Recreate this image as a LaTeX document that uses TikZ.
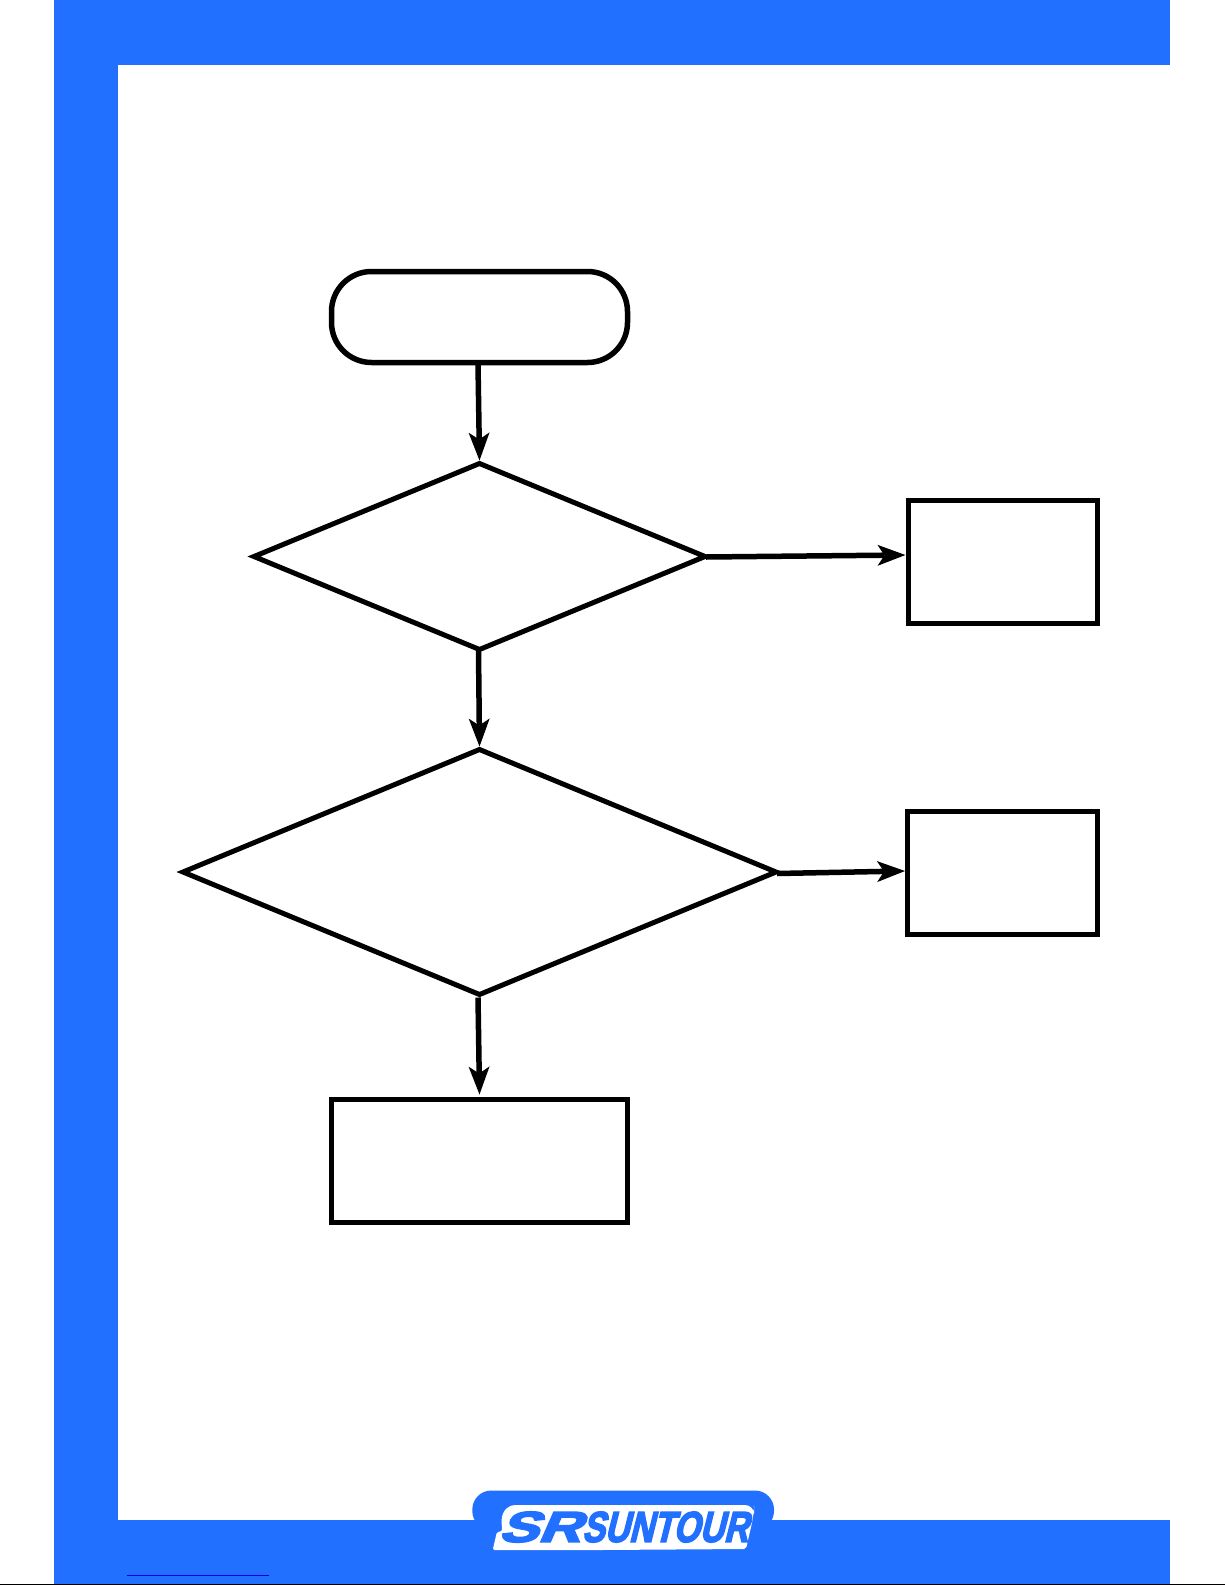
\documentclass[tikz,border=0pt]{standalone}
\usepackage{graphicx}
\usepackage{fontspec}
\usetikzlibrary{arrows.meta,shapes.geometric}
\newfontfamily\logofont{Liberation Sans}[BoldFeatures={FakeSlant=0.32,FakeBold=4}]
\definecolor{bandblue}{HTML}{2170FF}
\definecolor{linkblue}{HTML}{0000EE}
\tikzset{
  band/.style={fill=bandblue,draw=none},
  startbox/.style={draw=black,line width=5.5pt,rectangle,rounded corners=40pt,inner sep=0pt,outer sep=0pt,fill=white},
  procbox/.style={draw=black,line width=5pt,rectangle,inner sep=0pt,outer sep=0pt,fill=white},
  decision/.style={draw=black,line width=5pt,diamond,inner sep=0pt,outer sep=0pt,fill=white},
  flowarrow/.style={draw=black,line width=5.5pt,-{Stealth[length=28pt,width=21pt,inset=7pt,line width=0pt]}},
  logotext/.style={inner sep=0pt,outer sep=0pt,text=bandblue,font=\logofont\bfseries}
}
\begin{document}
\begin{tikzpicture}[x=1pt,y=-1pt]
\useasboundingbox (0,0) rectangle (1225,1585);
\fill[white] (0,0) rectangle (1225,1585);
% blue frame
\fill[band] (54,0) rectangle (1170,64.5);
\fill[band] (54,0) rectangle (118,1584);
\fill[band] (54,1520) rectangle (1170,1584);
\fill[band,rounded corners=19pt] (472.3,1530) -- (472.3,1490.5) -- (774,1490.5) -- (774,1530) -- cycle;
\draw[black,line width=1.2pt] (0,1584.4) -- (1225,1584.4);
\draw[linkblue,line width=1pt] (127,1575.3) -- (269,1575.3);
% logo
\fill[white,rounded corners=2pt] (492.7,1550) -- (497,1531.5) -- (502,1531.5) -- (501.5,1518) [rounded corners=9pt] -- (506,1505) -- (754,1505) -- (754,1514) [rounded corners=2pt] -- (746,1549) -- (600,1550) -- cycle;
\node[logotext,anchor=center] (logosr) at (539,1527) {\resizebox{82pt}{30pt}{SR}};
\node[logotext,anchor=center] (logosun) at (665,1527) {\resizebox{166pt}{30pt}{SUNTOUR}};
% shapes
\node[startbox,minimum width=296pt,minimum height=91pt] (start) at (479.5,317) {};
\node[decision,minimum width=451pt,minimum height=186pt] (d1) at (479.5,556.5) {};
\node[decision,minimum width=593pt,minimum height=245pt] (d2) at (479.5,872) {};
\node[procbox,minimum width=189.5pt,minimum height=123pt] (r1) at (1003.2,562) {};
\node[procbox,minimum width=190pt,minimum height=123pt] (r2) at (1002.5,873) {};
\node[procbox,minimum width=296pt,minimum height=123pt] (r3) at (479.5,1161) {};
% connectors
\draw[flowarrow] ([xshift=-1.5pt,yshift=-2pt]start.south) -- ([yshift=3pt]d1.north);
\draw[flowarrow] ([xshift=-1pt,yshift=-1pt]d1.south) -- ([yshift=3pt]d2.north);
\draw[flowarrow] ([xshift=-1.5pt,yshift=-3pt]d2.south) -- ([yshift=5pt]r3.north);
\draw[flowarrow] ([xshift=1pt,yshift=-.5pt]d1.east) -- ([xshift=-3pt,yshift=7pt]r1.west);
\draw[flowarrow] ([xshift=1pt,yshift=-1.5pt]d2.east) -- ([xshift=-2.5pt,yshift=2pt]r2.west);
\end{tikzpicture}
\end{document}
